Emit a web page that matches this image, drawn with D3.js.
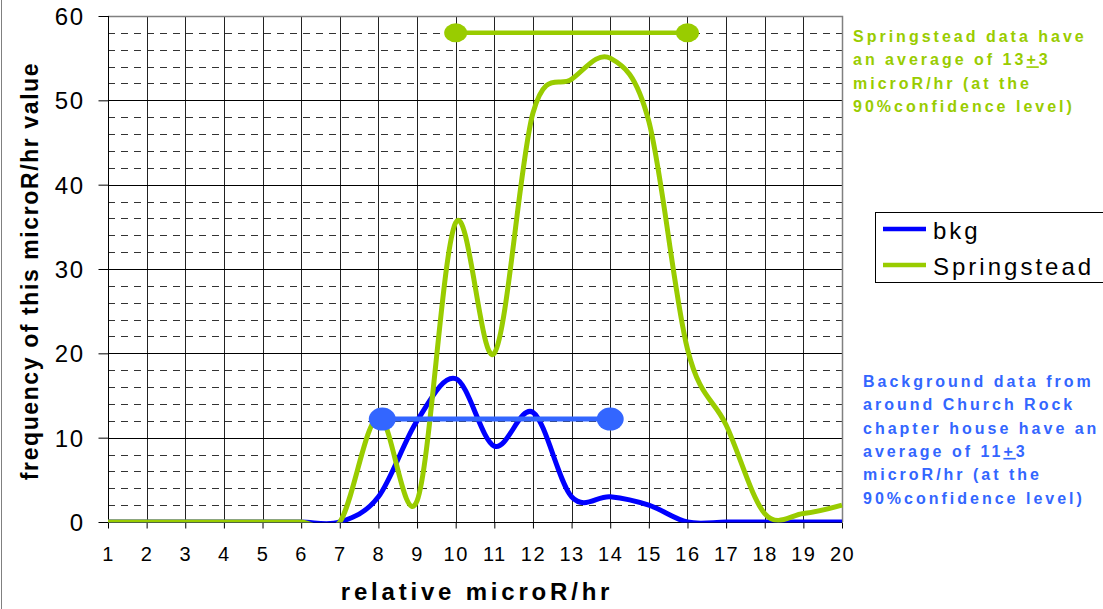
<!DOCTYPE html>
<html>
<head>
<meta charset="utf-8">
<script src="https://cdn.jsdelivr.net/npm/d3@7"></script>
<style>
  html, body { margin: 0; padding: 0; background: #fff; }
  svg { display: block; font-family: "Liberation Sans", Arial, sans-serif; }
</style>
</head>
<body>
<svg id="chart" width="1103" height="609"></svg>
<script>
// ---- data ----
const xCategories = [1,2,3,4,5,6,7,8,9,10,11,12,13,14,15,16,17,18,19,20];
const bkgValues = [0,0,0,0,0,0,0,3,12,17,9,13,3,3,2,0,0,0,0,0];
const springValues = [0,0,0,0,0,0,0,12.5,2.5,35.5,20,48.5,52.5,55,47.5,20.5,11.5,1,1,2];
const yTicks = [0,10,20,30,40,50,60];
const seriesNames = ["bkg", "Springstead"];
const bkgRange = { from: 8.1, to: 14, level: 12.2 };
const springRange = { from: 10, to: 16, level: 58 };
const springNote = ["Springstead data have", "an average of 13\u00B13", "microR/hr (at the", "90%confidence level)"];
const bkgNote = ["Background data from", "around Church Rock", "chapter house have an", "average of 11\u00B13", "microR/hr (at the", "90%confidence level)"];

(function () {
// ---- layout ----
const W = 1103, H = 609;
const pL = 108, pR = 842, pT = 16, pB = 522;
const blue = "#0000FF", green = "#99CC00", blueBar = "#3366FF";

const svg = d3.select("#chart");
svg.append("rect").attr("width", W).attr("height", H).attr("fill", "#fff");
svg.append("line").attr("x1", 1.5).attr("x2", 1.5).attr("y1", 0).attr("y2", H)
  .attr("stroke", "#808080").attr("stroke-width", 1);
svg.append("defs").append("clipPath").attr("id", "plotclip")
  .append("rect").attr("x", pL).attr("y", pT).attr("width", pR - pL + 3).attr("height", pB - pT + 0.5);

const x = d3.scaleLinear().domain([1, 20]).range([pL, pR]);
const y = d3.scaleLinear().domain([0, 60]).range([pB, pT]);

// ---- grid ----
const grid = svg.append("g");
const minor = d3.range(2, 60, 2).filter(v => v % 10 !== 0);
grid.selectAll("line.minor").data(minor).join("line")
  .attr("x1", pL).attr("x2", pR)
  .attr("y1", d => Math.round(y(d)) + 0.5).attr("y2", d => Math.round(y(d)) + 0.5)
  .attr("stroke", "#333").attr("stroke-width", 1).attr("stroke-dasharray", "7,6");
grid.selectAll("line.vert").data(xCategories.slice(1, -1)).join("line")
  .attr("x1", d => Math.round(x(d)) + 0.5).attr("x2", d => Math.round(x(d)) + 0.5)
  .attr("y1", pT).attr("y2", pB)
  .attr("stroke", "#222").attr("stroke-width", 1);
grid.selectAll("line.major").data([10,20,30,40,50]).join("line")
  .attr("x1", pL).attr("x2", pR)
  .attr("y1", d => Math.round(y(d)) + 0.5).attr("y2", d => Math.round(y(d)) + 0.5)
  .attr("stroke", "#000").attr("stroke-width", 1);
grid.append("path")
  .attr("d", `M${pL},${pT + 0.5}H${pR + 0.5}V${pB}`)
  .attr("fill", "none").attr("stroke", "#808080").attr("stroke-width", 1.5);

// ---- axes ----
const yAxis = svg.append("g").attr("transform", `translate(${pL + 0.5},0)`)
  .call(d3.axisLeft(y).tickValues(yTicks).tickSize(10).tickPadding(14).tickFormat(d3.format("d")));
yAxis.select(".domain").attr("stroke", "#000").attr("d", `M0,${pT}V${pB}`);
yAxis.selectAll(".tick line").attr("stroke", "#000");
yAxis.selectAll(".tick text").attr("font-size", 24).attr("fill", "#000")
  .attr("font-family", "Liberation Sans, Arial, sans-serif").attr("letter-spacing", 1.5)
  .attr("dy", "0.36em");

const xAxis = svg.append("g").attr("transform", `translate(0,${pB + 0.5})`)
  .call(d3.axisBottom(x).tickValues(xCategories).tickSize(6).tickPadding(18).tickFormat(d3.format("d")));
xAxis.select(".domain").attr("stroke", "#000").attr("d", `M${pL},0H${pR}`);
xAxis.selectAll(".tick line").attr("stroke", "#000");
xAxis.selectAll(".tick text").attr("font-size", 20).attr("fill", "#000")
  .attr("font-family", "Liberation Sans, Arial, sans-serif").attr("letter-spacing", 1.5);

svg.append("text")
  .attr("transform", `translate(38,${(pT + pB) / 2 + 2}) rotate(-90)`)
  .attr("text-anchor", "middle").attr("font-size", 23).attr("font-weight", "bold")
  .attr("letter-spacing", 1.6).attr("fill", "#000")
  .text("frequency of this microR/hr value");
svg.append("text")
  .attr("x", 477).attr("y", 600)
  .attr("text-anchor", "middle").attr("font-size", 24).attr("font-weight", "bold")
  .attr("letter-spacing", 3.8).attr("fill", "#000")
  .text("relative microR/hr");

// ---- series (clipped to the plot area, as in the original) ----
const series = svg.append("g").attr("clip-path", "url(#plotclip)");
const line = d3.line().x((d, i) => x(xCategories[i])).y(d => y(d)).curve(d3.curveCardinal.tension(0));
series.append("path").datum(bkgValues).attr("d", line)
  .attr("fill", "none").attr("stroke", blue).attr("stroke-width", 5).attr("stroke-linejoin", "round");
series.append("path").datum(springValues).attr("d", line)
  .attr("fill", "none").attr("stroke", green).attr("stroke-width", 5).attr("stroke-linejoin", "round");

// ---- confidence bars ----
function rangeBar(r, color, sw, rx, ry) {
  const g = svg.append("g");
  g.append("line").attr("x1", x(r.from)).attr("x2", x(r.to))
    .attr("y1", y(r.level)).attr("y2", y(r.level))
    .attr("stroke", color).attr("stroke-width", sw);
  g.selectAll("ellipse").data([r.from, r.to]).join("ellipse")
    .attr("cx", d => x(d)).attr("cy", y(r.level)).attr("rx", rx).attr("ry", ry)
    .attr("fill", color);
}
rangeBar(bkgRange, blueBar, 5, 13.5, 11.5);
rangeBar(springRange, green, 4.5, 11.5, 9.5);

// ---- legend ----
const lg = svg.append("g");
lg.append("rect").attr("x", 875.5).attr("y", 212.5).attr("width", 260).attr("height", 70)
  .attr("fill", "#fff").attr("stroke", "#000").attr("stroke-width", 1);
const legendColors = [blue, green];
seriesNames.forEach((name, i) => {
  const ly = 229 + i * 36;
  lg.append("line").attr("x1", 883).attr("x2", 926).attr("y1", ly).attr("y2", ly)
    .attr("stroke", legendColors[i]).attr("stroke-width", 4.5);
  lg.append("text").attr("x", 933).attr("y", ly + 10).attr("font-size", 24)
    .attr("letter-spacing", 3).attr("fill", "#000").text(name);
});

// ---- notes ----
function note(lines, x0, y0, color) {
  const t = svg.append("text").attr("font-size", 16).attr("font-weight", "bold")
    .attr("fill", color).attr("letter-spacing", 3);
  lines.forEach((ln, i) => {
    const ty = y0 + i * 23.3;
    const k = ln.indexOf("\u00B1");
    if (k < 0) {
      t.append("tspan").attr("x", x0).attr("y", ty).text(ln);
    } else {
      t.append("tspan").attr("x", x0).attr("y", ty).text(ln.slice(0, k));
      t.append("tspan").style("text-decoration", "underline").text("+");
      t.append("tspan").text(ln.slice(k + 1));
    }
  });
}
note(springNote, 853, 42, green);
note(bkgNote, 863, 387, blueBar);
})();
</script>
</body>
</html>
